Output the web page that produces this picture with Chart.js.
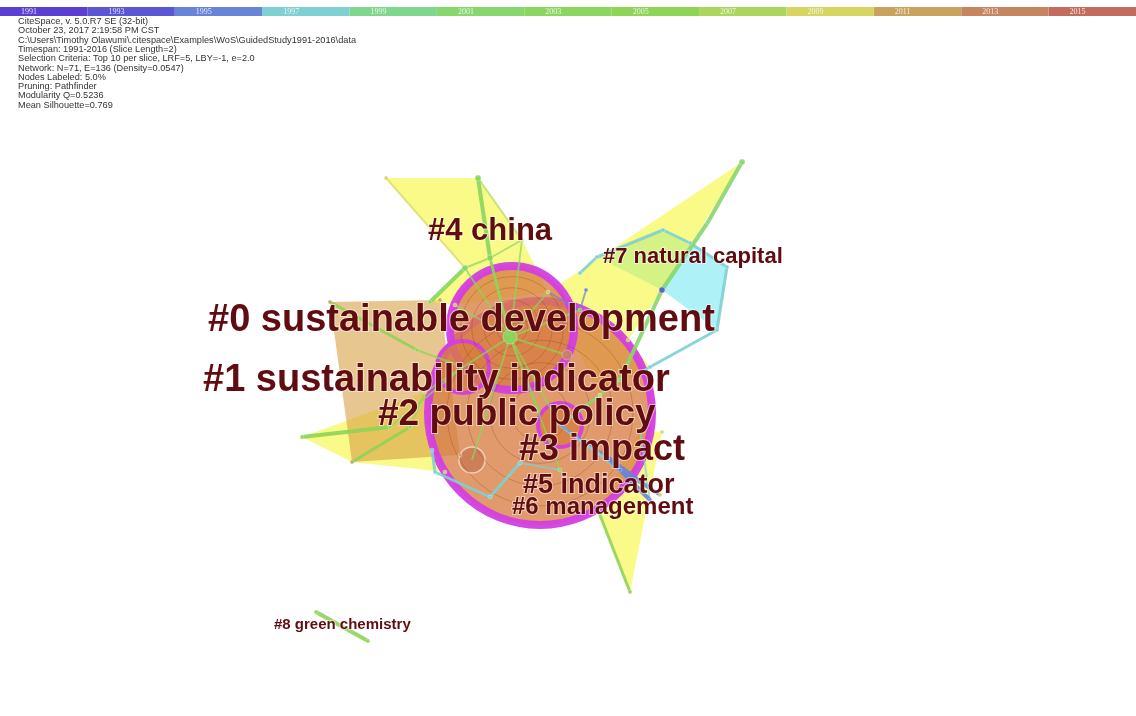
<!DOCTYPE html>
<html>
<head>
<meta charset="utf-8">
<script src="https://cdn.jsdelivr.net/npm/chart.js@4.4.0/dist/chart.umd.min.js"></script>
<style>
  html, body { margin: 0; padding: 0; background: #fff; }
  #wrap { width: 1136px; height: 716px; position: relative; }
</style>
</head>
<body>
<div id="wrap"><canvas id="net"></canvas></div>
<script>
// ================== DATA ==================
// 2-year time slices of the run
const sliceYears  = [1991, 1993, 1995, 1997, 1999, 2001, 2003, 2005, 2007, 2009, 2011, 2013, 2015];
const sliceColors = ["#5b3fd3", "#5a56d6", "#6884d6", "#7ed0d2", "#7fd78e", "#88d66e", "#8bd65f",
                     "#8fd457", "#aad65c", "#d5d55f", "#c9a35d", "#c68561", "#c26c5e"];

const headerLines = [
  "CiteSpace, v. 5.0.R7 SE (32-bit)",
  "October 23, 2017 2:19:58 PM CST",
  "C:\\Users\\Timothy Olawumi\\.citespace\\Examples\\WoS\\GuidedStudy1991-2016\\data",
  "Timespan: 1991-2016 (Slice Length=2)",
  "Selection Criteria: Top 10 per slice, LRF=5, LBY=-1, e=2.0",
  "Network: N=71, E=136 (Density=0.0547)",
  "Nodes Labeled: 5.0%",
  "Pruning: Pathfinder",
  "Modularity Q=0.5236",
  "Mean Silhouette=0.769"
];

// layout of the keyword nodes (x, y), node radius, first year, high-centrality flag
const nodeX       = [540, 512, 463, 560, 472, 567, 510, 386, 478, 490, 522, 465, 430, 440, 742, 708, 662, 620, 597, 663, 690, 727, 717, 650, 330, 352, 460, 302, 425, 445, 548, 598, 630, 660, 662, 640, 316, 368, 417, 390, 410, 605, 650, 432, 435, 490, 586, 560, 580, 455, 628, 600, 580, 640, 520, 620];
const nodeY       = [413, 328, 367, 425, 460, 355, 337, 178, 178, 258, 240, 268, 302, 300, 162, 222, 290, 380, 257, 230, 243, 267, 330, 367, 302, 462, 455, 437, 392, 472, 292, 510, 592, 495, 432, 430, 612, 641, 350, 427, 427, 455, 500, 450, 472, 497, 290, 470, 310, 305, 340, 395, 273, 373, 463, 470];
const nodeR       = [112, 62, 26, 22, 13, 5, 7, 2, 3, 3, 2, 3, 2, 2, 3, 2, 3, 2, 2, 2, 2, 2, 2, 2, 2, 2, 2, 2, 2, 2, 2, 2, 2, 2, 2, 2, 2, 2, 2, 2, 2, 2, 2, 2, 2, 2, 2, 2, 2, 2, 2, 2, 2, 2, 2, 2];
const nodeYear    = [2011, 2011, 2009, 2011, 2013, 2013, 2003, 2009, 2003, 2003, 2009, 2003, 2003, 2011, 2001, 2001, 1993, 2001, 1997, 1997, 1997, 1997, 1997, 1997, 2011, 2011, 2011, 2005, 2009, 2009, 2009, 2005, 2005, 2009, 2009, 2005, 2005, 2005, 2005, 2005, 2005, 1995, 1995, 1997, 1997, 1997, 1995, 2003, 2005, 2009, 2009, 2009, 1997, 1997, 1997, 1995];
const nodeCentral = [1, 1, 1, 1, 0, 0, 0];

// co-occurrence links: endpoints, weight, year
const linkFrom   = [8, 9, 8, 7, 11, 9, 14, 15, 16, 52, 18, 19, 20, 21, 22, 23, 46, 24, 38, 27, 39, 25, 40, 28, 31, 41, 35, 3, 43, 44, 45, 54, 36, 6, 6, 6, 6, 6, 6, 6, 6, 6, 6, 6, 9, 30, 17, 33, 55, 3];
const linkTo     = [9, 6, 10, 11, 12, 11, 15, 16, 17, 18, 19, 20, 21, 22, 23, 53, 48, 38, 2, 39, 2, 40, 28, 2, 32, 42, 42, 41, 44, 45, 54, 47, 37, 10, 30, 49, 5, 2, 3, 4, 47, 48, 0, 11, 10, 48, 3, 41, 33, 55];
const linkWeight = [3, 2, 1, 1, 3, 1, 3, 3, 3, 2, 2, 2, 2, 2, 2, 2, 1, 2, 1, 3, 1, 2, 1, 1, 2, 3, 1, 1, 2, 2, 2, 1, 3, 1, 1, 1, 1, 1, 1, 1, 1, 1, 1, 1, 1, 1, 2, 2, 2, 2];
const linkYear   = [2003, 2003, 2007, 2009, 2003, 2003, 2001, 2001, 2001, 1997, 1997, 1997, 1997, 1997, 1997, 1997, 1995, 2005, 2005, 2005, 2005, 2005, 2005, 2005, 2005, 1995, 1997, 1995, 1997, 1997, 1997, 1997, 2005, 2003, 2005, 2003, 2005, 2003, 2005, 2003, 2005, 2003, 2003, 2005, 2003, 1995, 2001, 1995, 1995, 1997];

// cluster hulls (member nodes in outline order) and mean year
const hullMembers = [[7, 8, 10, 30, 49, 12, 11], [14, 16, 50, 23, 51, 30], [31, 32, 34, 35], [24, 13, 26, 25], [27, 28, 29, 25], [18, 19, 20, 21, 22, 16]];
const hullYear    = [2009, 2009, 2009, 2011, 2009, 1997];

const clusterLabels = ["#0 sustainable development", "#1 sustainability indicator", "#2 public policy", "#3 impact",
                       "#4 china", "#5 indicator", "#6 management", "#7 natural capital", "#8 green chemistry"];

// ================== STYLE ==================
const labelAnchor = [[208, 331], [203, 391], [378, 425], [519, 460], [428, 240], [523, 493], [512, 514], [603, 263], [274, 629]];
const labelFont   = [38, 38, 37, 36, 31, 27, 24, 22, 15];
const hullFill = { 1997: "rgba(100,228,240,0.52)", 2009: "rgba(245,245,40,0.55)", 2011: "rgba(215,160,70,0.6)" };

function yearColor(y, a) {
  const i = Math.max(0, Math.min(sliceColors.length - 1, Math.floor((y - 1990) / 2)));
  const h = sliceColors[i];
  if (a === undefined) return h;
  const r = parseInt(h.slice(1, 3), 16), g = parseInt(h.slice(3, 5), 16), b = parseInt(h.slice(5, 7), 16);
  return `rgba(${r},${g},${b},${a})`;
}
const pt = i => ({ x: nodeX[i], y: nodeY[i] });

// ================== DATASETS ==================
const datasets = [];

// timeline bar
sliceYears.forEach((yr, i) => {
  datasets.push({
    type: "line", xAxisID: "xt", yAxisID: "y", order: 1,
    data: [{ x: yr - 1, y: 11.5 }, { x: yr + 1, y: 11.5 }],
    borderColor: sliceColors[i], borderWidth: 9, borderCapStyle: "butt",
    pointRadius: 0, fill: false, tension: 0
  });
});

// hulls
hullMembers.forEach((m, i) => {
  const pts = m.map(pt);
  pts.push(pt(m[0]));
  datasets.push({
    type: "line", order: 20, data: pts,
    borderColor: "rgba(0,0,0,0)", borderWidth: 0,
    backgroundColor: hullFill[hullYear[i]], fill: "shape",
    pointRadius: 0, tension: 0
  });
});

// big nodes (tree rings + purple centrality ring)
const bigNodes = nodeR.map((r, i) => i).filter(i => nodeR[i] >= 10);
datasets.push({
  type: "bubble", order: 15,
  data: bigNodes.map(i => ({ x: nodeX[i], y: nodeY[i], r: nodeR[i] })),
  backgroundColor: bigNodes.map(i => nodeCentral[i] ? "rgba(215,125,65,0.78)" : "rgba(190,100,70,0.5)"),
  borderColor: bigNodes.map(i => nodeCentral[i] ? "rgba(212,62,224,0.95)" : "rgba(245,215,195,0.9)"),
  borderWidth: bigNodes.map(i => nodeCentral[i] ? (nodeR[i] > 50 ? 8 : 4) : 1.5)
});
const rings = [];
bigNodes.forEach(i => {
  if (nodeR[i] < 30) return;
  [0.25, 0.45, 0.65, 0.83].forEach(f => rings.push({ x: nodeX[i], y: nodeY[i], r: nodeR[i] * f }));
});
datasets.push({
  type: "bubble", order: 14, data: rings,
  backgroundColor: "rgba(0,0,0,0)", borderColor: "rgba(140,60,35,0.3)", borderWidth: 1
});

// links
linkFrom.forEach((f, k) => {
  datasets.push({
    type: "line", order: 10,
    data: [pt(f), pt(linkTo[k])],
    borderColor: yearColor(linkYear[k], linkWeight[k] > 1 ? 0.9 : 0.7),
    borderWidth: 0.8 + linkWeight[k] * 1.1,
    pointRadius: 0, fill: false, tension: 0
  });
});

// small nodes
const smallNodes = nodeR.map((r, i) => i).filter(i => nodeR[i] < 10);
datasets.push({
  type: "bubble", order: 5,
  data: smallNodes.map(i => ({ x: nodeX[i], y: nodeY[i], r: nodeR[i] })),
  backgroundColor: smallNodes.map(i => yearColor(nodeYear[i], 0.9)),
  borderColor: "rgba(255,255,255,0.6)", borderWidth: 0.5
});

// ================== TEXT ==================
const textPlugin = {
  id: "netText",
  afterDatasetsDraw(chart) {
    const { ctx, scales } = chart;
    const x = scales.x, y = scales.y, xt = scales.xt;
    ctx.save();
    // slice years on the bar
    ctx.font = '8px "Liberation Serif", serif';
    ctx.fillStyle = "rgba(255,255,255,0.8)";
    ctx.textBaseline = "middle";
    sliceYears.forEach(yr => ctx.fillText(String(yr), xt.getPixelForValue(yr - 1) + 21, y.getPixelForValue(12)));
    // run summary
    ctx.font = '9.2px "Liberation Sans", Arial, sans-serif';
    ctx.fillStyle = "#333";
    ctx.textBaseline = "alphabetic";
    headerLines.forEach((s, i) => ctx.fillText(s, 18, y.getPixelForValue(24 + i * 9.3)));
    // cluster labels
    clusterLabels.forEach((s, i) => {
      ctx.font = `bold ${labelFont[i]}px "Liberation Sans", Arial, sans-serif`;
      const px = x.getPixelForValue(labelAnchor[i][0]), py = y.getPixelForValue(labelAnchor[i][1]);
      ctx.lineWidth = 2;
      ctx.strokeStyle = "rgba(255,255,255,0.55)";
      ctx.strokeText(s, px, py);
      ctx.fillStyle = "#600c10";
      ctx.fillText(s, px, py);
    });
    ctx.restore();
  }
};

new Chart(document.getElementById("net"), {
  type: "scatter",
  data: { datasets },
  options: {
    responsive: true, maintainAspectRatio: false, animation: false, events: [],
    layout: { padding: 0, autoPadding: false },
    plugins: { legend: { display: false }, tooltip: { enabled: false } },
    scales: {
      x:  { type: "linear", min: 0, max: 1136, display: false },
      xt: { type: "linear", min: 1990, max: 2016, display: false },
      y:  { type: "linear", min: 0, max: 716, reverse: true, display: false }
    }
  },
  plugins: [textPlugin]
});
</script>
</body>
</html>
